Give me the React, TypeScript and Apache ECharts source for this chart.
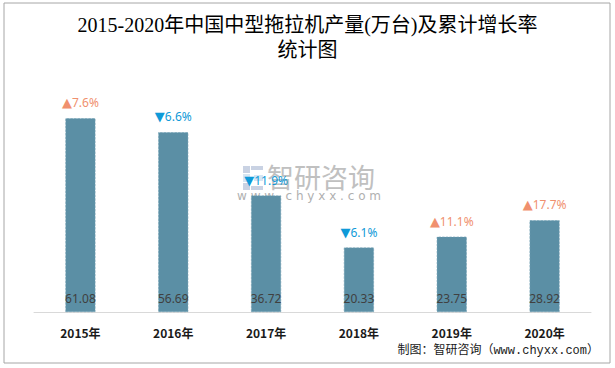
import React, { useEffect, useRef } from "react";
import * as echarts from "echarts";

const categories = ["2015年", "2016年", "2017年", "2018年", "2019年", "2020年"];
const production = [61.08, 56.69, 36.72, 20.33, 23.75, 28.92];
const growth = [7.6, -6.6, -11.9, -6.1, 11.1, 17.7];

const titleText = "2015-2020年中国中型拖拉机产量(万台)及累计增长率\n统计图";
const sourceText = "制图：智研咨询（www.chyxx.com）";
const watermarkName = "智研咨询";
const watermarkUrl = "w w w . c h y x x . c o m";

export default function App() {
  const ref = useRef<HTMLDivElement>(null);
  useEffect(() => {
    if (!ref.current) return;
    const chart = echarts.init(ref.current, undefined, { renderer: "svg" });
    const growthData = production.map((v, i) => ({
      value: v,
      label: {
        formatter:
          growth[i] >= 0
            ? `{up|▲}{upt|${Math.abs(growth[i]).toFixed(1)}%}`
            : `{dn|▼}{dnt|${Math.abs(growth[i]).toFixed(1)}%}`,
      },
    }));
    chart.setOption({
      animation: false,
      backgroundColor: "#ffffff",
      title: {
        text: titleText,
        left: "center",
        top: 7,
        textStyle: {
          fontFamily: "'Liberation Serif', 'Noto Sans CJK SC', serif",
          fontSize: 20,
          fontWeight: "normal",
          color: "#000000",
          lineHeight: 25,
        },
      },
      grid: { left: 34, right: 24, top: 90, bottom: 56 },
      xAxis: {
        type: "category",
        data: categories,
        axisLine: { lineStyle: { color: "#d9d9d9", width: 1 } },
        axisTick: { show: false },
        axisLabel: {
          margin: 14,
          color: "#1a1a1a",
          fontSize: 12,
          fontWeight: "bold",
          fontFamily: "'Noto Sans CJK SC', sans-serif",
        },
      },
      yAxis: {
        type: "value",
        min: 0,
        max: 70,
        show: false,
        splitLine: { show: false },
      },
      graphic: [
        {
          type: "rect",
          shape: { x: 4, y: 3, width: 606, height: 360 },
          style: { fill: "none", stroke: "#a6a6a6", lineWidth: 1 },
          silent: true,
        },
        {
          type: "group",
          silent: true,
          z: -1,
          children: [
            { type: "rect", shape: { x: 243, y: 166, width: 7, height: 7 }, style: { fill: "#c9d2e3" } },
            { type: "rect", shape: { x: 251, y: 166, width: 12, height: 4 }, style: { fill: "#c9d2e3" } },
            { type: "rect", shape: { x: 243, y: 174, width: 7, height: 8 }, style: { fill: "#d6e6f3" } },
            { type: "rect", shape: { x: 243, y: 183, width: 7, height: 7 }, style: { fill: "#c9d2e3" } },
            { type: "rect", shape: { x: 251, y: 186, width: 12, height: 4 }, style: { fill: "#c9d2e3" } },
            { type: "rect", shape: { x: 254, y: 175, width: 9, height: 6 }, style: { fill: "#d6e6f3" } },
            {
              type: "text",
              x: 267,
              y: 163,
              style: {
                text: watermarkName,
                fontSize: 27,
                fill: "#c0c0c0",
                fontFamily: "'Noto Sans CJK SC', sans-serif",
              },
            },
            {
              type: "text",
              x: 237,
              y: 190,
              style: {
                text: watermarkUrl,
                fontSize: 12,
                fill: "#b0b0b0",
                fontFamily: "'DejaVu Sans', sans-serif",
              },
            },
          ],
        },
        {
          type: "text",
          right: 16,
          top: 345,
          style: {
            text: sourceText,
            fontSize: 12,
            fill: "#1a1a1a",
            fontFamily: "'Liberation Mono', 'Noto Sans CJK SC', monospace",
          },
          silent: true,
        },
      ],
      series: [
        {
          type: "bar",
          data: production,
          barWidth: 30,
          itemStyle: {
            color: "#5b8fa5",
            borderColor: "#6f9db1",
            borderWidth: 0.6,
            borderType: "dashed",
          },
          label: {
            show: true,
            position: "insideBottom",
            distance: 8,
            color: "#404040",
            fontSize: 12,
            fontFamily: "'Noto Sans', sans-serif",
            formatter: (p: any) => p.value.toFixed(2),
          },
          z: 2,
        },
        {
          type: "bar",
          data: growthData,
          barWidth: 30,
          barGap: "-100%",
          itemStyle: { color: "transparent" },
          label: {
            show: true,
            position: "top",
            distance: 9,
            fontFamily: "'Noto Sans', sans-serif",
            rich: {
              up: { color: "#f0906e", fontSize: 13, fontFamily: "'DejaVu Sans', sans-serif" },
              upt: { color: "#f0906e", fontSize: 12 },
              dn: { color: "#0f9ad8", fontSize: 13, fontFamily: "'DejaVu Sans', sans-serif" },
              dnt: { color: "#0f9ad8", fontSize: 12 },
            },
          },
          z: 3,
        },
      ],
    });
    return () => chart.dispose();
  }, []);
  return (
    <div
      ref={ref}
      style={{ position: "fixed", left: 0, top: 0, width: 615, height: 368 }}
    />
  );
}
